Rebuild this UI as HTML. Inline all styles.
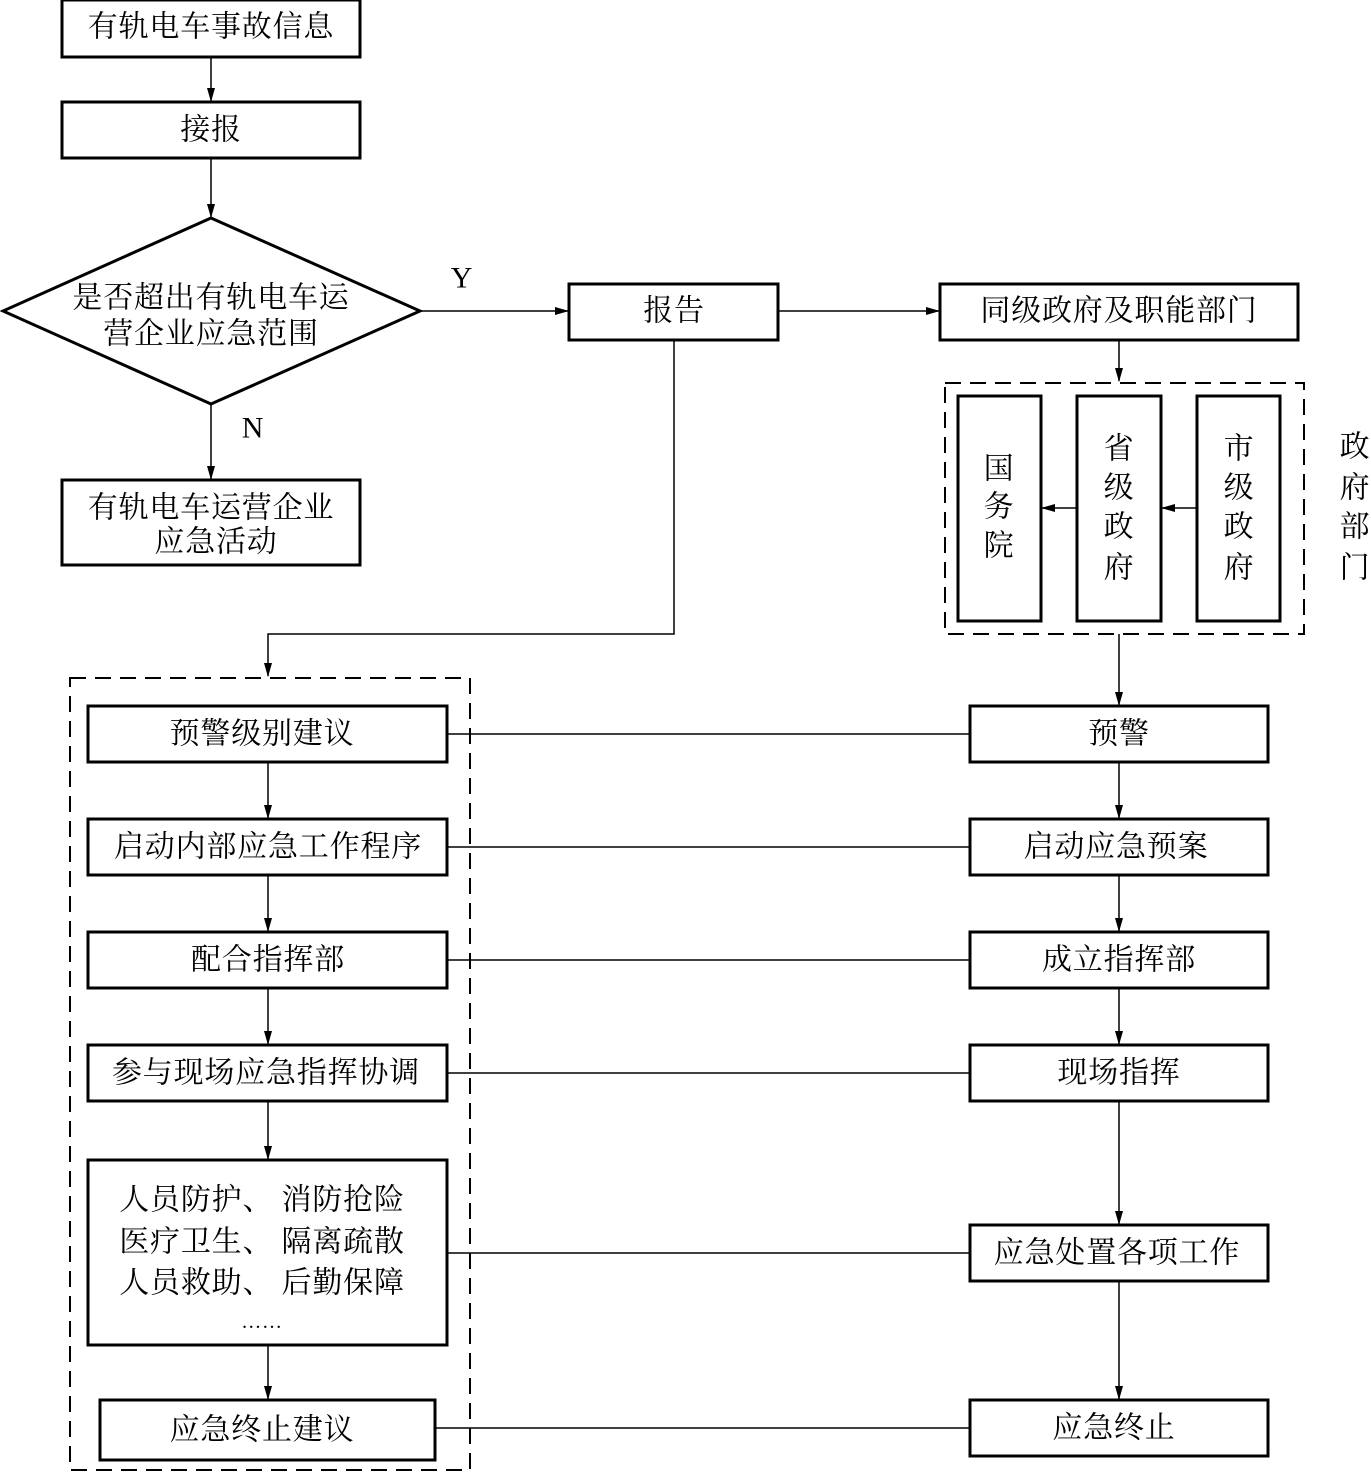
<!DOCTYPE html>
<html><head><meta charset="utf-8"><style>
html,body{margin:0;padding:0;background:#fff;}
svg{display:block;}
text{font-family:"Liberation Serif","Noto Serif CJK SC",serif;font-size:30px;letter-spacing:0.8px;fill:#000;text-anchor:middle;dominant-baseline:central;}
.b{fill:#fff;stroke:#000;stroke-width:3;}
.l{stroke:#000;stroke-width:1.5;fill:none;}
.d{stroke:#000;stroke-width:2;fill:none;stroke-dasharray:16,9;}
</style></head><body>
<svg width="1371" height="1472" viewBox="0 0 1371 1472" xmlns="http://www.w3.org/2000/svg">
<defs><marker id="a" markerWidth="14" markerHeight="10" refX="13" refY="5" orient="auto" markerUnits="userSpaceOnUse"><path d="M0,1 L14,5 L0,9 Z" fill="#000"/></marker></defs>

<rect class="d" x="70" y="678" width="400" height="792"/>
<rect class="d" x="945" y="383" width="359" height="251"/>

<line class="l" x1="211" y1="57" x2="211" y2="101" marker-end="url(#a)"/>
<line class="l" x1="211" y1="158" x2="211" y2="217" marker-end="url(#a)"/>
<line class="l" x1="420" y1="311" x2="568" y2="311" marker-end="url(#a)"/>
<line class="l" x1="778" y1="311" x2="939" y2="311" marker-end="url(#a)"/>
<line class="l" x1="211" y1="404" x2="211" y2="479" marker-end="url(#a)"/>
<polyline class="l" points="674,340 674,634 268,634 268,676" marker-end="url(#a)"/>
<line class="l" x1="1119" y1="340" x2="1119" y2="381" marker-end="url(#a)"/>
<line class="l" x1="1197" y1="508" x2="1162" y2="508" marker-end="url(#a)"/>
<line class="l" x1="1077" y1="508" x2="1042" y2="508" marker-end="url(#a)"/>
<line class="l" x1="1119" y1="634" x2="1119" y2="705" marker-end="url(#a)"/>

<line class="l" x1="268" y1="762" x2="268" y2="818" marker-end="url(#a)"/>
<line class="l" x1="268" y1="875" x2="268" y2="931" marker-end="url(#a)"/>
<line class="l" x1="268" y1="988" x2="268" y2="1044" marker-end="url(#a)"/>
<line class="l" x1="268" y1="1101" x2="268" y2="1159" marker-end="url(#a)"/>
<line class="l" x1="268" y1="1345" x2="268" y2="1399" marker-end="url(#a)"/>

<line class="l" x1="1119" y1="762" x2="1119" y2="818" marker-end="url(#a)"/>
<line class="l" x1="1119" y1="875" x2="1119" y2="931" marker-end="url(#a)"/>
<line class="l" x1="1119" y1="988" x2="1119" y2="1044" marker-end="url(#a)"/>
<line class="l" x1="1119" y1="1101" x2="1119" y2="1224" marker-end="url(#a)"/>
<line class="l" x1="1119" y1="1281" x2="1119" y2="1399" marker-end="url(#a)"/>

<line class="l" x1="447" y1="734" x2="970" y2="734"/>
<line class="l" x1="447" y1="847" x2="970" y2="847"/>
<line class="l" x1="447" y1="960" x2="970" y2="960"/>
<line class="l" x1="447" y1="1073" x2="970" y2="1073"/>
<line class="l" x1="447" y1="1253" x2="970" y2="1253"/>
<line class="l" x1="435" y1="1428" x2="970" y2="1428"/>

<rect class="b" x="62" y="0" width="298" height="57"/><text x="211" y="27">有轨电车事故信息</text>
<rect class="b" x="62" y="102" width="298" height="56"/><text x="211" y="130">接报</text>
<polygon class="b" points="211,218 3,311 211,404 420,311"/>
<text x="211" y="298">是否超出有轨电车运</text>
<text x="211" y="334">营企业应急范围</text>
<text x="462" y="278">Y</text>
<text x="253" y="428">N</text>
<rect class="b" x="62" y="480" width="298" height="85"/>
<text x="211" y="508">有轨电车运营企业</text>
<text x="216" y="542">应急活动</text>
<rect class="b" x="569" y="284" width="209" height="56"/><text x="674" y="311">报告</text>
<rect class="b" x="940" y="284" width="358" height="56"/><text x="1119" y="311">同级政府及职能部门</text>

<rect class="b" x="958" y="396" width="83" height="225"/>
<text x="999" y="469">国</text><text x="999" y="507">务</text><text x="999" y="546">院</text>
<rect class="b" x="1077" y="396" width="84" height="225"/>
<text x="1119" y="449">省</text><text x="1119" y="488">级</text><text x="1119" y="527">政</text><text x="1119" y="568">府</text>
<rect class="b" x="1197" y="396" width="83" height="225"/>
<text x="1239" y="449">市</text><text x="1239" y="488">级</text><text x="1239" y="527">政</text><text x="1239" y="568">府</text>
<text x="1355" y="447">政</text><text x="1355" y="488">府</text><text x="1355" y="527">部</text><text x="1355" y="568">门</text>

<rect class="b" x="88" y="706" width="359" height="56"/><text x="262" y="734">预警级别建议</text>
<rect class="b" x="88" y="819" width="359" height="56"/><text x="268" y="847">启动内部应急工作程序</text>
<rect class="b" x="88" y="932" width="359" height="56"/><text x="268" y="960">配合指挥部</text>
<rect class="b" x="88" y="1045" width="359" height="56"/><text x="266" y="1073">参与现场应急指挥协调</text>
<rect class="b" x="88" y="1160" width="359" height="185"/>
<text x="262" y="1200">人员防护、 消防抢险</text>
<text x="262" y="1242">医疗卫生、 隔离疏散</text>
<text x="262" y="1283">人员救助、 后勤保障</text>
<text x="262" y="1322" style="font-size:20px">……</text>
<rect class="b" x="100" y="1400" width="335" height="60"/><text x="262" y="1430">应急终止建议</text>

<rect class="b" x="970" y="706" width="298" height="56"/><text x="1119" y="734">预警</text>
<rect class="b" x="970" y="819" width="298" height="56"/><text x="1116" y="847">启动应急预案</text>
<rect class="b" x="970" y="932" width="298" height="56"/><text x="1119" y="960">成立指挥部</text>
<rect class="b" x="970" y="1045" width="298" height="56"/><text x="1119" y="1073">现场指挥</text>
<rect class="b" x="970" y="1225" width="298" height="56"/><text x="1117" y="1253">应急处置各项工作</text>
<rect class="b" x="970" y="1400" width="298" height="56"/><text x="1114" y="1428">应急终止</text>
</svg>
</body></html>
